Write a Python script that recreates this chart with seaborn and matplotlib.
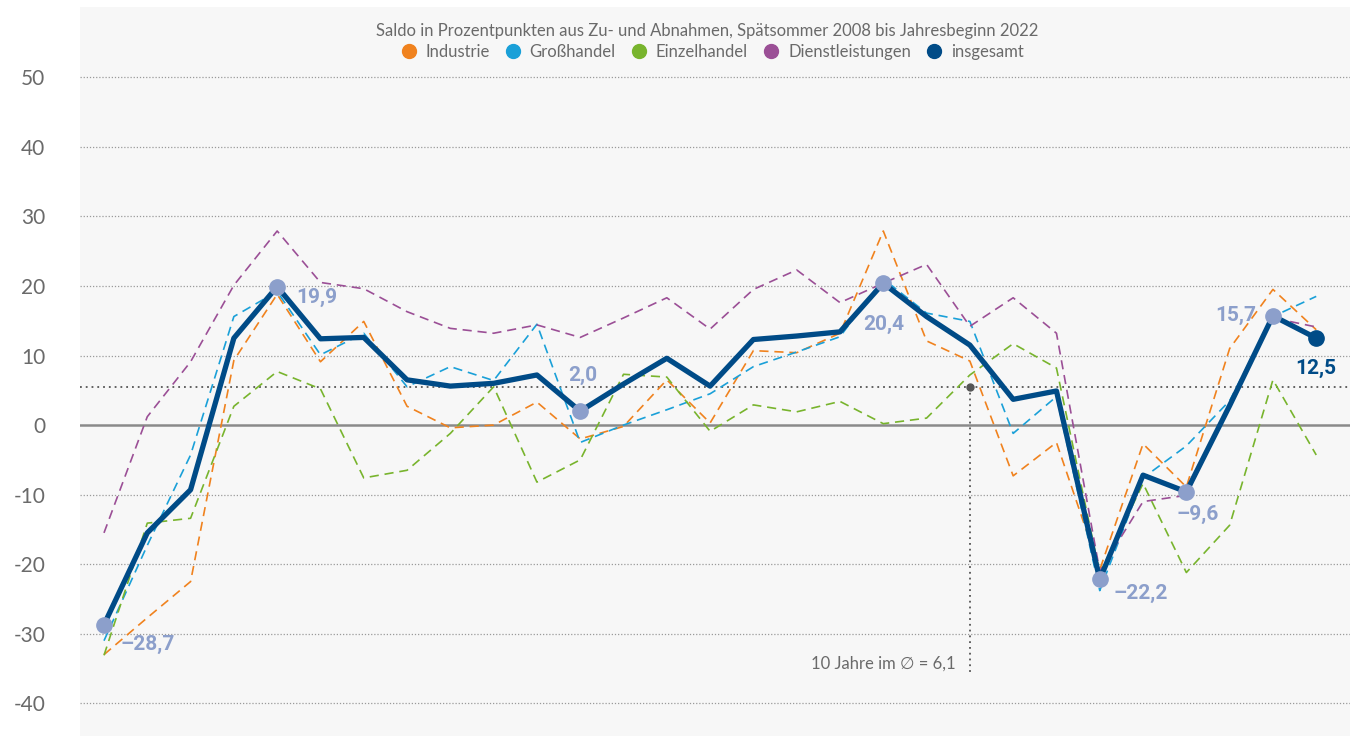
import matplotlib
matplotlib.use("Agg")
import matplotlib.pyplot as plt
from matplotlib.lines import Line2D
import seaborn as sns
import numpy as np
import pandas as pd

# survey waves, late summer 2008 .. start of 2022 (29 points)
waves = list(range(29))

industrie = [-33.0, -27.7, -22.5, 9.3, 18.8, 9.1, 14.9, 2.7, -0.4, 0.0, 3.3, -2.0, -0.2, 6.5, 0.3,
             10.7, 10.4, 13.2, 27.9, 12.1, 9.2, -7.3, -2.5, -20.8, -2.7, -8.9, 11.0, 19.5, 13.7]
grosshandel = [-31.0, -17.3, -4.3, 15.6, 19.2, 10.1, 13.2, 5.5, 8.4, 6.4, 14.5, -2.5, 0.0, 2.2, 4.5,
               8.4, 10.5, 12.7, 21.0, 16.1, 14.9, -1.2, 4.1, -23.8, -7.6, -3.0, 3.5, 15.6, 18.5]
einzelhandel = [-33.1, -14.1, -13.4, 2.7, 7.7, 5.2, -7.6, -6.5, -1.2, 5.5, -8.2, -5.0, 7.3, 6.9, -0.9,
                2.9, 1.9, 3.4, 0.2, 1.0, 7.2, 11.7, 8.2, -21.3, -8.4, -21.2, -14.4, 6.5, -4.3]
dienstleistungen = [-15.5, 1.2, 9.1, 20.1, 27.9, 20.5, 19.6, 16.3, 13.9, 13.2, 14.4, 12.6, 15.4, 18.3, 13.8,
                    19.5, 22.3, 17.6, 20.4, 23.1, 14.2, 18.3, 13.2, -21.0, -11.0, -10.1, 2.8, 15.4, 14.1]
insgesamt = [-28.7, -15.5, -9.3, 12.5, 19.9, 12.4, 12.6, 6.5, 5.6, 6.0, 7.2, 2.0, 5.9, 9.6, 5.6,
             12.3, 12.8, 13.4, 20.4, 15.6, 11.5, 3.7, 4.9, -22.2, -7.2, -9.6, 2.8, 15.7, 12.5]

labels = ["Industrie", "Großhandel", "Einzelhandel", "Dienstleistungen", "insgesamt"]
colors = ["#f0821e", "#1aa0d8", "#78b42d", "#9b4f96", "#004b87"]

# highlighted waves of the total line: index, text offset (px), alignment
highlights = [(0, (12, -14), "left"), (4, (14, -8), "left"), (11, (2, 26), "center"),
              (18, (0, -30), "center"), (23, (10, -10), "left"), (25, (8, -16), "center"),
              (27, (-12, 0), "right")]
avg_line = 5.5
avg_wave = 20

df = pd.DataFrame({"wave": waves, "Industrie": industrie, "Großhandel": grosshandel,
                   "Einzelhandel": einzelhandel, "Dienstleistungen": dienstleistungen,
                   "insgesamt": insgesamt})

font = ["Lato", "DejaVu Sans"]
grey_txt = "#6a6a6a"
marker_col = "#8c9fcb"

fig = plt.figure(figsize=(13.5, 7.36), dpi=100)
ax = fig.add_axes([80 / 1350, 0, 1270 / 1350, 1 - 7 / 736])
ax.set_facecolor("#f7f7f7")

# grid + zero line
for v in range(-40, 51, 10):
    if v == 0:
        continue
    ax.axhline(v, color="#9a9a9a", lw=0.9, ls=(0, (1, 1.5)), zorder=1)
ax.axhline(0, color="#8a8a8a", lw=1.8, zorder=1)
ax.axhline(avg_line, color="#555555", lw=1.3, ls=(0, (1, 2.2)), zorder=1)
ax.plot([avg_wave, avg_wave], [avg_line, -35.5], color="#555555", lw=1.3, ls=(0, (1, 2.2)), zorder=1)
ax.plot([avg_wave], [avg_line], "o", color="#555555", ms=5, zorder=2)
ax.annotate("10 Jahre im ∅ = 6,1", (avg_wave, -34.3), xytext=(-10, 0), textcoords="offset points",
            ha="right", va="center", fontsize=12, color=grey_txt, family=font)

for name, col in zip(labels[:4], colors[:4]):
    sns.lineplot(data=df, x="wave", y=name, ax=ax, color=col, lw=1.2, zorder=3)
    ax.lines[-1].set_dashes([5.5, 3.5])
sns.lineplot(data=df, x="wave", y="insgesamt", ax=ax, color=colors[4], lw=3.8, zorder=4)

for i, off, ha in highlights:
    ax.plot(waves[i], insgesamt[i], "o", color=marker_col, ms=11, zorder=5)
    ax.annotate(f"{insgesamt[i]:.1f}".replace(".", ",").replace("-", "–"), (waves[i], insgesamt[i]),
                xytext=off, textcoords="offset points", ha=ha, va="center",
                fontsize=15, fontweight="bold", color=marker_col, family=["Roboto", "DejaVu Sans"])
ax.plot(waves[-1], insgesamt[-1], "o", color=colors[4], ms=11, zorder=5)
ax.annotate(f"{insgesamt[-1]:.1f}".replace(".", ","), (waves[-1], insgesamt[-1]), xytext=(0, -22),
            textcoords="offset points", ha="center", va="center", fontsize=15, fontweight="bold",
            color=colors[4], family=["Roboto", "DejaVu Sans"])

ax.set_xlim(-0.554, 28.78)
ax.set_ylim(-44.7, 60.1)
ax.set_yticks(range(-40, 51, 10))
ax.set_yticklabels([str(v) for v in range(-40, 51, 10)], fontsize=15, color=grey_txt, family=font)
ax.tick_params(axis="y", length=0, pad=25)
ax.set_xticks([])
ax.set_xlabel("")
ax.set_ylabel("")
for s in ax.spines.values():
    s.set_visible(False)

fig.text(707 / 1350, 1 - 31 / 736, "Saldo in Prozentpunkten aus Zu- und Abnahmen, Spätsommer 2008 bis Jahresbeginn 2022",
         ha="center", va="center", fontsize=12, color=grey_txt, family=font)
handles = [Line2D([], [], ls="", marker="o", ms=10, color=c) for c in colors]
fig.legend(handles, labels, loc="center", bbox_to_anchor=(712 / 1350, 1 - 52 / 736), ncol=5,
           frameon=False, handletextpad=0.5, columnspacing=0.9, handlelength=1.0,
           prop={"family": font, "size": 12}, labelcolor=grey_txt)

fig.savefig("out.png", dpi=100)
